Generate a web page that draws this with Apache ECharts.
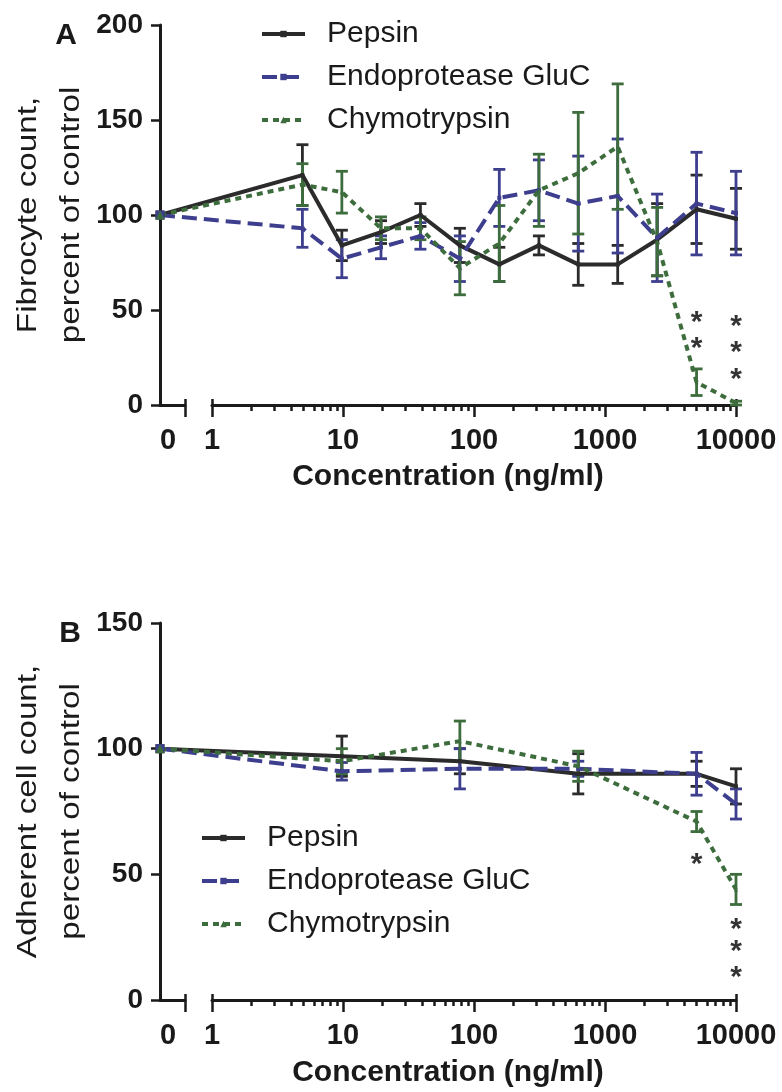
<!DOCTYPE html>
<html><head><meta charset="utf-8">
<script src="https://cdn.jsdelivr.net/npm/echarts@6/dist/echarts.min.js"></script>
<style>html,body{margin:0;padding:0;background:#fff}#c{width:782px;height:1092px}</style>
</head><body><div id="c"></div>
<script>
// ---------------- DATA ----------------
const seriesNames = ['Pepsin', 'Endoprotease GluC', 'Chymotrypsin'];

// Panel A: fibrocyte count (% of control)
const concA = [0, 4.9, 9.8, 19.5, 39, 78, 156, 313, 625, 1250, 2500, 5000, 10000];
const pepsinA    = [100, 121, 84, 91, 100, 84, 74, 84, 74, 74, 87, 103, 98];
const pepsinAErr = [0, 16, 8, 6, 6, 9, 9, 5, 11, 10, 19, 18, 16];
const glucA      = [100, 93, 77, 83, 89, 77, 109, 113, 106, 110, 88, 106, 101];
const glucAErr   = [0, 10, 10, 6, 7, 12, 15, 16, 25, 30, 23, 27, 22];
const chymoA     = [100, 116, 112, 93, 93, 72, 85, 113, 122, 136, 86, 12, 1];
const chymoAErr  = [0, 11, 11, 6, 6, 14, 20, 19, 32, 33, 18, 7, 1];

// Panel B: adherent cell count (% of control)
const concB = [0, 9.8, 78, 625, 5000, 10000];
const pepsinB    = [100, 97, 95, 90, 90, 85];
const pepsinBErr = [0, 8, 5, 8, 5, 7];
const glucB      = [100, 91, 92, 92, 90, 78];
const glucBErr   = [0, 3.5, 8, 3, 8.5, 6];
const chymoB     = [100, 95, 103, 93, 71, 44];
const chymoBErr  = [0, 5, 8, 6, 4, 6];

// significance marks [concentration, height]
const starsA = [[5000, 45], [5000, 31], [10000, 43], [10000, 29], [10000, 15]];
const starsB = [[5000, 55], [10000, 29], [10000, 20.5], [10000, 10]];

// tick labels
const yTicksA = [0, 50, 100, 150, 200];
const yTicksB = [0, 50, 100, 150];
const xMajorTicks = [1, 10, 100, 1000, 10000];
const xMinorTicks = [];
[1, 10, 100, 1000].forEach(d => { for (let k = 2; k <= 9; k++) xMinorTicks.push(k * d); });

// ---------------- LAYOUT / STYLE ----------------
const FONT = '"Liberation Sans", Arial, Helvetica, sans-serif';
const INK = '#1a1a1a';
const COLORS = ['#2b2b2b', '#3e3e8e', '#3d6d3d'];
const LINE_TYPES = ['solid', [15, 7], [6, 5]];
const SYMBOLS = ['rect', 'rect', 'triangle'];
const AX_X = 160, ZERO_END = 185, LOG_START = 212, LOG_END = 736;
const DEC = (LOG_END - LOG_START) / 4;
const ZERO_POS = Math.pow(10, -(LOG_START - AX_X) / DEC);

const panels = [
  { top: 25, bottom: 405, yTicks: yTicksA, conc: concA,
    vals: [pepsinA, glucA, chymoA], errs: [pepsinAErr, glucAErr, chymoAErr], stars: starsA,
    letter: 'A', letterPos: [66, 36], titles: ['Fibrocyte count,', 'percent of control'],
    xTitleY: 477, legendLeft: 260, legendTop: 19 },
  { top: 623, bottom: 1000, yTicks: yTicksB, conc: concB,
    vals: [pepsinB, glucB, chymoB], errs: [pepsinBErr, glucBErr, chymoBErr], stars: starsB,
    letter: 'B', letterPos: [70, 634], titles: ['Adherent cell count,', 'percent of control'],
    xTitleY: 1073, legendLeft: 200, legendTop: 823 }
];

const grids = [], xAxes = [], yAxes = [], series = [], graphics = [], legends = [];
function addGrid(left, width, top, height, xa, ya) {
  const gi = grids.length;
  grids.push({ left, top, width, height, containLabel: false, outerBoundsMode: 'none' });
  xAxes.push(Object.assign({ gridIndex: gi }, xa));
  yAxes.push(Object.assign({ gridIndex: gi }, ya));
  return gi;
}
const axisLine = { show: true, onZero: false, lineStyle: { color: INK, width: 3 } };
const noLine = { show: false };

function errRender(color) {
  return function (params, api) {
    const x = api.value(0), lo = api.value(1), hi = api.value(2);
    const a = api.coord([x, lo]), b = api.coord([x, hi]);
    const hw = 6;
    const st = { stroke: color, lineWidth: 2.8 };
    return { type: 'group', children: [
      { type: 'line', shape: { x1: a[0], y1: a[1], x2: b[0], y2: b[1] }, style: st },
      { type: 'line', shape: { x1: a[0] - hw, y1: a[1], x2: a[0] + hw, y2: a[1] }, style: st },
      { type: 'line', shape: { x1: b[0] - hw, y1: b[1], x2: b[0] + hw, y2: b[1] }, style: st }
    ] };
  };
}

panels.forEach(P => {
  const h = P.bottom - P.top;
  const ymax = P.yTicks[P.yTicks.length - 1];
  const hiddenY = { type: 'value', min: 0, max: ymax, show: false };

  // series grid (spans 0 position .. 10000)
  const gS = addGrid(AX_X, LOG_END - AX_X, P.top, h,
    { type: 'log', min: ZERO_POS, max: 10000, show: false },
    { type: 'value', min: 0, max: ymax, interval: 50,
      axisLine: axisLine,
      axisTick: { show: true, length: 9, lineStyle: { color: INK, width: 2.5 } },
      axisLabel: { fontFamily: FONT, fontSize: 28, fontWeight: 'bold', color: INK, margin: 17 },
      splitLine: { show: false } });

  // zero segment
  addGrid(AX_X, ZERO_END - AX_X, P.top, h,
    { type: 'value', min: 0, max: 1, axisLine: axisLine,
      axisTick: { show: true, customValues: [1], length: 12, lineStyle: { color: INK, width: 2.5 } },
      axisLabel: { show: true, customValues: [0], formatter: () => '0', align: 'left',
        fontFamily: FONT, fontSize: 29, fontWeight: 'bold', color: INK, margin: 21 },
      splitLine: { show: false } }, hiddenY);
  addGrid(AX_X, ZERO_END - AX_X, P.top, h,
    { type: 'value', min: 0, max: 1, axisLine: noLine,
      axisTick: { show: true, inside: true, customValues: [1], length: 6, lineStyle: { color: INK, width: 2.5 } },
      axisLabel: { show: false }, splitLine: { show: false } }, hiddenY);

  // log segment: major
  addGrid(LOG_START, LOG_END - LOG_START, P.top, h,
    { type: 'log', min: 1, max: 10000, axisLine: axisLine,
      axisTick: { show: true, customValues: xMajorTicks, length: 12, lineStyle: { color: INK, width: 2.5 } },
      axisLabel: { show: true, customValues: xMajorTicks, formatter: v => String(Math.round(v)),
        fontFamily: FONT, fontSize: 29, fontWeight: 'bold', color: INK, margin: 21 },
      splitLine: { show: false }, minorTick: { show: false } }, hiddenY);
  // minor ticks
  addGrid(LOG_START, LOG_END - LOG_START, P.top, h,
    { type: 'log', min: 1, max: 10000, axisLine: noLine,
      axisTick: { show: true, customValues: xMinorTicks, length: 6, lineStyle: { color: INK, width: 2.5 } },
      axisLabel: { show: false }, splitLine: { show: false } }, hiddenY);
  // inner end ticks
  addGrid(LOG_START, LOG_END - LOG_START, P.top, h,
    { type: 'log', min: 1, max: 10000, axisLine: noLine,
      axisTick: { show: true, inside: true, customValues: [1, 10000], length: 6, lineStyle: { color: INK, width: 2.5 } },
      axisLabel: { show: false }, splitLine: { show: false } }, hiddenY);

  const xPos = c => (c === 0 ? ZERO_POS : c);

  // error bars + lines
  seriesNames.forEach((name, k) => {
    const vals = P.vals[k], errs = P.errs[k];
    series.push({
      type: 'custom', xAxisIndex: gS, yAxisIndex: gS, silent: true, z: 2,
      renderItem: errRender(COLORS[k]),
      encode: { x: 0, y: [1, 2] },
      data: P.conc.map((c, i) => [xPos(c), vals[i] - errs[i], vals[i] + errs[i]]).filter((d, i) => errs[i] > 0)
    });
  });
  seriesNames.forEach((name, k) => {
    const vals = P.vals[k];
    series.push({
      type: 'line', name: name, xAxisIndex: gS, yAxisIndex: gS, z: 3,
      data: P.conc.map((c, i) => [xPos(c), vals[i]]),
      symbol: SYMBOLS[k],
      symbolSize: (v, p) => (p.dataIndex === 0 ? 9 : 4),
      showSymbol: true,
      itemStyle: { color: COLORS[k] },
      lineStyle: { color: COLORS[k], width: 4, type: LINE_TYPES[k] }
    });
  });
  // stars
  series.push({
    type: 'scatter', xAxisIndex: gS, yAxisIndex: gS, z: 4, silent: true,
    symbolSize: 1, itemStyle: { color: 'transparent' },
    data: P.stars,
    label: { show: true, formatter: '*', position: 'inside', offset: [0, 3],
      fontFamily: FONT, fontSize: 30, fontWeight: 'bold', color: '#000' }
  });

  legends.push({
    orient: 'vertical', left: P.legendLeft, top: P.legendTop, padding: 0,
    itemWidth: 43, itemHeight: 8, itemGap: 13, selectedMode: false,
    data: seriesNames,
    lineStyle: { width: 4 },
    textStyle: { fontFamily: FONT, fontSize: 30, color: INK, lineHeight: 30, padding: [0, 0, 0, 17] }
  });

  // panel letter
  graphics.push({ type: 'text', x: P.letterPos[0], y: P.letterPos[1],
    style: { text: P.letter, font: 'bold 30px ' + FONT, fill: INK, textAlign: 'center', textVerticalAlign: 'middle' } });
  // y title (two lines)
  const midY = (P.top + P.bottom) / 2;
  [29, 72].forEach((x, j) => {
    graphics.push({ type: 'text', x: x, y: midY, rotation: Math.PI / 2, scaleX: 1.23,
      style: { text: P.titles[j], font: '27px ' + FONT, fill: INK, textAlign: 'center', textVerticalAlign: 'middle' } });
  });
  // x title
  graphics.push({ type: 'text', x: (AX_X + LOG_END) / 2, y: P.xTitleY,
    style: { text: 'Concentration (ng/ml)', font: 'bold 30px ' + FONT, fill: INK, textAlign: 'center', textVerticalAlign: 'middle' } });
});

const chart = echarts.init(document.getElementById('c'), null, { renderer: 'canvas' });
chart.setOption({
  backgroundColor: '#ffffff',
  animation: false,
  grid: grids, xAxis: xAxes, yAxis: yAxes,
  legend: legends, series: series, graphic: graphics
});
</script></body></html>
